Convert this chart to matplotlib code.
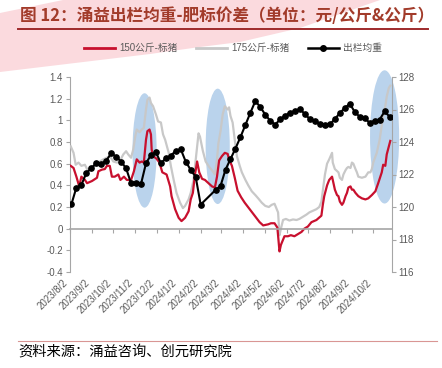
import matplotlib.pyplot as plt
import matplotlib.dates as mdates
from matplotlib.patches import Ellipse, Polygon
from matplotlib.lines import Line2D
import numpy as np
import pandas as pd

plt.rcParams['font.family'] = ['Liberation Sans', 'Noto Sans CJK SC']

# 150公斤-标猪 价差 (元/公斤), 左轴
red_dates = ['2023-08-03', '2023-08-07', '2023-08-11', '2023-08-15', '2023-08-18', '2023-08-23', '2023-08-26',
             '2023-09-02', '2023-09-09', '2023-09-11', '2023-09-16', '2023-09-20', '2023-09-23', '2023-09-27', '2023-09-30',
             '2023-10-04', '2023-10-09', '2023-10-12', '2023-10-17', '2023-10-21', '2023-10-27', '2023-10-31',
             '2023-11-04', '2023-11-08', '2023-11-11', '2023-11-14', '2023-11-17', '2023-11-19', '2023-11-22', '2023-11-24',
             '2023-11-25', '2023-11-27',
             '2023-12-02', '2023-12-06', '2023-12-10', '2023-12-16', '2023-12-21', '2023-12-23', '2023-12-28',
             '2024-01-02', '2024-01-06', '2024-01-11', '2024-01-16', '2024-01-19', '2024-01-22', '2024-01-25', '2024-01-28',
             '2024-01-31',
             '2024-02-04', '2024-02-08', '2024-02-13', '2024-02-18', '2024-02-22', '2024-02-25', '2024-02-28',
             '2024-03-03', '2024-03-07', '2024-03-11', '2024-03-13', '2024-03-17', '2024-03-21', '2024-03-25', '2024-03-30',
             '2024-04-04', '2024-04-11', '2024-04-18', '2024-04-25', '2024-04-30',
             '2024-05-07', '2024-05-11', '2024-05-16', '2024-05-20', '2024-05-23', '2024-05-25', '2024-05-30',
             '2024-06-04', '2024-06-08', '2024-06-13', '2024-06-18', '2024-06-23', '2024-06-27',
             '2024-07-02', '2024-07-07', '2024-07-14', '2024-07-21', '2024-07-23', '2024-07-25', '2024-07-29',
             '2024-08-01', '2024-08-05', '2024-08-07', '2024-08-09', '2024-08-12', '2024-08-14', '2024-08-16', '2024-08-19',
             '2024-08-21', '2024-08-24', '2024-08-26', '2024-08-28', '2024-08-31',
             '2024-09-02', '2024-09-04', '2024-09-07', '2024-09-11', '2024-09-16', '2024-09-21', '2024-09-25', '2024-09-30',
             '2024-10-05', '2024-10-09', '2024-10-14', '2024-10-16', '2024-10-19', '2024-10-21', '2024-10-24', '2024-10-26']
red_values = [0.58, 0.56, 0.48, 0.39, 0.48, 0.45, 0.42,
              0.44, 0.47, 0.53, 0.545, 0.55, 0.58, 0.58, 0.48,
              0.48, 0.50, 0.45, 0.48, 0.45, 0.45, 0.53,
              0.64, 0.61, 0.62, 0.61, 0.82, 0.90, 0.915, 0.87, 0.73, 0.67,
              0.645, 0.61, 0.52, 0.50, 0.39, 0.30, 0.18,
              0.10, 0.07, 0.10, 0.16, 0.27, 0.33, 0.50, 0.62, 0.52,
              0.46, 0.45, 0.42, 0.39, 0.38, 0.48, 0.63,
              0.67, 0.70, 0.69, 0.64, 0.58, 0.47, 0.35, 0.29,
              0.24, 0.18, 0.12, 0.06, 0.03,
              0.04, 0.05, 0.05, 0.01, -0.21, -0.15, -0.07,
              -0.07, -0.06, -0.07, -0.05, -0.03, 0.0,
              0.02, 0.06, 0.08, 0.12, 0.22, 0.30, 0.40,
              0.45, 0.48, 0.42, 0.36, 0.31, 0.30, 0.25, 0.22, 0.24, 0.30, 0.33, 0.38, 0.39,
              0.36, 0.36, 0.33, 0.30, 0.28, 0.27, 0.28, 0.31,
              0.345, 0.42, 0.52, 0.59, 0.58, 0.685, 0.76, 0.81]

# 175公斤-标猪 价差 (元/公斤), 左轴
gray_dates = ['2023-08-03', '2023-08-07', '2023-08-10', '2023-08-14', '2023-08-18', '2023-08-23', '2023-08-26', '2023-08-30',
              '2023-09-04', '2023-09-09', '2023-09-13', '2023-09-18', '2023-09-23', '2023-09-27',
              '2023-10-02', '2023-10-07', '2023-10-11', '2023-10-16', '2023-10-20', '2023-10-23', '2023-10-27', '2023-10-30',
              '2023-11-02', '2023-11-04', '2023-11-08', '2023-11-11', '2023-11-14', '2023-11-17', '2023-11-19', '2023-11-22',
              '2023-11-24', '2023-11-27',
              '2023-12-01', '2023-12-04', '2023-12-08', '2023-12-11', '2023-12-14', '2023-12-19', '2023-12-22', '2023-12-26',
              '2023-12-30',
              '2024-01-04', '2024-01-08', '2024-01-11', '2024-01-16', '2024-01-19', '2024-01-23', '2024-01-27', '2024-01-30',
              '2024-02-01', '2024-02-05', '2024-02-09', '2024-02-14', '2024-02-19', '2024-02-22', '2024-02-25', '2024-02-27',
              '2024-03-01', '2024-03-04', '2024-03-07', '2024-03-11', '2024-03-13', '2024-03-15', '2024-03-18', '2024-03-21',
              '2024-03-24', '2024-03-28', '2024-03-31',
              '2024-04-05', '2024-04-09', '2024-04-14', '2024-04-19', '2024-04-23', '2024-04-28',
              '2024-05-03', '2024-05-08', '2024-05-12', '2024-05-16', '2024-05-21', '2024-05-23', '2024-05-25', '2024-05-28',
              '2024-06-01', '2024-06-06', '2024-06-11', '2024-06-16', '2024-06-20', '2024-06-25', '2024-06-30',
              '2024-07-04', '2024-07-09', '2024-07-14', '2024-07-18', '2024-07-21', '2024-07-23', '2024-07-26', '2024-07-29',
              '2024-08-01', '2024-08-05', '2024-08-06', '2024-08-09', '2024-08-14', '2024-08-16', '2024-08-19', '2024-08-21',
              '2024-08-24', '2024-08-26', '2024-08-28', '2024-08-31',
              '2024-09-02', '2024-09-04', '2024-09-07', '2024-09-09', '2024-09-11', '2024-09-16', '2024-09-21', '2024-09-25',
              '2024-09-28', '2024-09-30',
              '2024-10-02', '2024-10-07', '2024-10-11', '2024-10-14', '2024-10-16', '2024-10-19', '2024-10-21', '2024-10-24',
              '2024-10-26']
gray_values = [0.76, 0.70, 0.59, 0.61, 0.58, 0.59, 0.55, 0.55,
               0.58, 0.59, 0.62, 0.64, 0.655, 0.67,
               0.62, 0.61, 0.62, 0.685, 0.715, 0.685, 0.655, 0.73,
               0.855, 0.915, 0.89, 0.915, 0.93, 1.10, 1.19, 1.21, 1.16, 1.13,
               1.055, 0.99, 0.98, 0.87, 0.82, 0.70, 0.58, 0.45, 0.33,
               0.24, 0.19, 0.21, 0.27, 0.33, 0.45, 0.70, 0.88,
               0.85, 0.72, 0.62, 0.57, 0.53, 0.50, 0.64, 0.79,
               0.90, 1.055, 1.13, 1.10, 1.12, 1.04, 0.98, 0.82, 0.67, 0.58, 0.52,
               0.45, 0.40, 0.345, 0.31, 0.28, 0.24,
               0.21, 0.20, 0.22, 0.23, 0.15, -0.06, 0.0, 0.08,
               0.09, 0.075, 0.085, 0.08, 0.09, 0.11, 0.13,
               0.15, 0.165, 0.18, 0.20, 0.25, 0.35, 0.50, 0.60,
               0.64, 0.70, 0.61, 0.55, 0.52, 0.47, 0.45, 0.50, 0.54, 0.56, 0.57, 0.56,
               0.61, 0.60, 0.55, 0.52, 0.48, 0.47, 0.48, 0.52, 0.52, 0.55,
               0.61, 0.70, 0.82, 0.95, 1.04, 1.13, 1.22, 1.30, 1.32]

# 出栏均重 (公斤), 右轴, 周度, 春节两周缺数
weight_start = '2023-08-04'
weight_values = [120.17, 121.2, 121.35, 122.1, 122.38, 122.7, 122.67, 122.85, 123.3, 123.1,
                 122.79, 122.38, 121.46, 121.46, 121.42, 122.69, 123.2, 123.37, 122.69, 123.0,
                 123.16, 123.46, 123.55, 122.79, 122.28, 121.85, 120.15, None, None,
                 121.05, 121.3, 122.3, 122.95, 123.6, 124.3, 125.05, 125.8, 126.52, 126.15,
                 125.68, 125.3, 125.07, 125.4, 125.63, 125.8, 125.93, 126.03, 125.7, 125.4,
                 125.3, 125.1, 125.07, 125.08, 125.42, 125.78, 126.1, 126.35, 125.85, 125.55,
                 125.45, 125.19, 125.31, 125.38, 125.88, 125.56]

series_labels = ['150公斤-标猪', '175公斤-标猪', '出栏均重']
title = '图 12：涌益出栏均重-肥标价差（单位：元/公斤&公斤）'
source = '资料来源：涌益咨询、创元研究院'

red_color = '#C8102E'
gray_color = '#C8C8C8'
axis_color = '#A6A6A6'
label_color = '#595959'
blue_fill = '#BAD3EC'

W, H = 442, 368
fig = plt.figure(figsize=(W / 100, H / 100), dpi=100)

# pink watermark band in the top-left corner
band_px = [(0, 13), (63, 0), (380, 0), (300, 28), (240, 42), (200, 47), (150, 54),
           (100, 60), (50, 66), (0, 72)]
fig.add_artist(Polygon([(x / W, 1 - y / H) for x, y in band_px], closed=True,
                       transform=fig.transFigure, facecolor='#FBDADE', edgecolor='none', zorder=0))

ax = fig.add_axes([70 / W, 1 - 272 / H, (391.7 - 70) / W, (272 - 77) / H])
ax.patch.set_visible(False)
ax2 = ax.twinx()

red_x = pd.to_datetime(red_dates)
gray_x = pd.to_datetime(gray_dates)
wk_x = pd.date_range(weight_start, periods=len(weight_values), freq='7D')
wk = pd.Series(weight_values, index=wk_x, dtype=float).dropna()

ax.plot(gray_x, gray_values, color=gray_color, lw=1.6, zorder=3)
ax.plot(red_x, red_values, color=red_color, lw=1.6, zorder=4)
ax2.plot(wk.index, wk.values, color='black', lw=1.5, marker='o', ms=3.8, zorder=5)

ymin, ymax = -0.4, 1.4
ax.set_ylim(ymin, ymax)
ax2.set_ylim(116, 128)
ax.set_xlim(pd.Timestamp('2023-08-02'), pd.Timestamp('2024-10-28'))

# highlighted zones
for center, width, yc, h in [('2023-11-15', 34, 0.722, 1.056),
                             ('2024-02-26', 34, 0.76, 1.065),
                             ('2024-10-18', 41, 0.847, 1.23)]:
    ax.add_patch(Ellipse((mdates.date2num(pd.Timestamp(center)), yc), width, h,
                         facecolor=blue_fill, edgecolor='none', zorder=1, clip_on=False))

# left axis
yt = np.round(np.arange(ymin, ymax + 0.01, 0.2), 1)
ax.set_yticks(yt)
ax.set_yticklabels([f'{v:g}' for v in yt])
ax.tick_params(axis='y', direction='out', length=3, color=axis_color, labelcolor=label_color,
               labelsize=7, pad=2)
ax2.set_yticks(np.arange(116, 129, 2))
ax2.tick_params(axis='y', direction='out', length=3, color=axis_color, labelcolor=label_color,
                labelsize=7, pad=2)

for s in ['top', 'right', 'bottom']:
    ax.spines[s].set_visible(False)
for s in ['top', 'left']:
    ax2.spines[s].set_visible(False)
ax.spines['left'].set_color(axis_color)
ax2.spines['right'].set_color(axis_color)

# x tick labels at the bottom, tick marks on the zero line
tick_dates = pd.date_range('2023-08-01', '2024-10-01', freq='MS') + pd.Timedelta(days=1)
ax.set_xticks(tick_dates)
ax.set_xticklabels([f'{d.year}/{d.month}/{d.day}' for d in tick_dates], rotation=45, ha='right')
ax.tick_params(axis='x', length=0, labelcolor=label_color, labelsize=7, pad=4)

ax2.xaxis.set_visible(True)
ax2.spines['bottom'].set_visible(True)
ax2.spines['bottom'].set_position(('axes', (0 - ymin) / (ymax - ymin)))
ax2.spines['bottom'].set_color(axis_color)
ax2.spines['bottom'].set_linewidth(1.2)
ax2.tick_params(axis='x', direction='out', length=3, color=axis_color, labelbottom=False,
                bottom=True, top=False)

# legend
handles = [Line2D([], [], color=red_color, lw=2),
           Line2D([], [], color=gray_color, lw=2),
           Line2D([], [], color='black', lw=1.8, marker='o', ms=4)]
leg = fig.legend(handles, series_labels, loc='center', bbox_to_anchor=(233 / W, 1 - 48 / H), ncol=3,
                 frameon=False, fontsize=7, handlelength=3.2, handletextpad=0.4, columnspacing=1.9)
for t in leg.get_texts():
    t.set_color(label_color)

# title, rules and source
fig.text(20 / W, 1 - 16.5 / H, title, fontsize=12, fontweight='bold', color='#A23B2A',
         va='center', ha='left', family=['Noto Sans CJK SC', 'DejaVu Sans'])
fig.add_artist(Line2D([18 / W, 428 / W], [1 - 28.5 / H] * 2, transform=fig.transFigure,
                      color='#9E2A2B', lw=1.4))
fig.add_artist(Line2D([18 / W, 437 / W], [1 - 340.5 / H] * 2, transform=fig.transFigure,
                      color='#D99694', lw=0.8))
fig.text(18 / W, 1 - 352 / H, source, fontsize=10.3, color='black', va='center', ha='left',
         family=['Noto Sans CJK SC', 'DejaVu Sans'])

fig.savefig('out.png', dpi=100)
